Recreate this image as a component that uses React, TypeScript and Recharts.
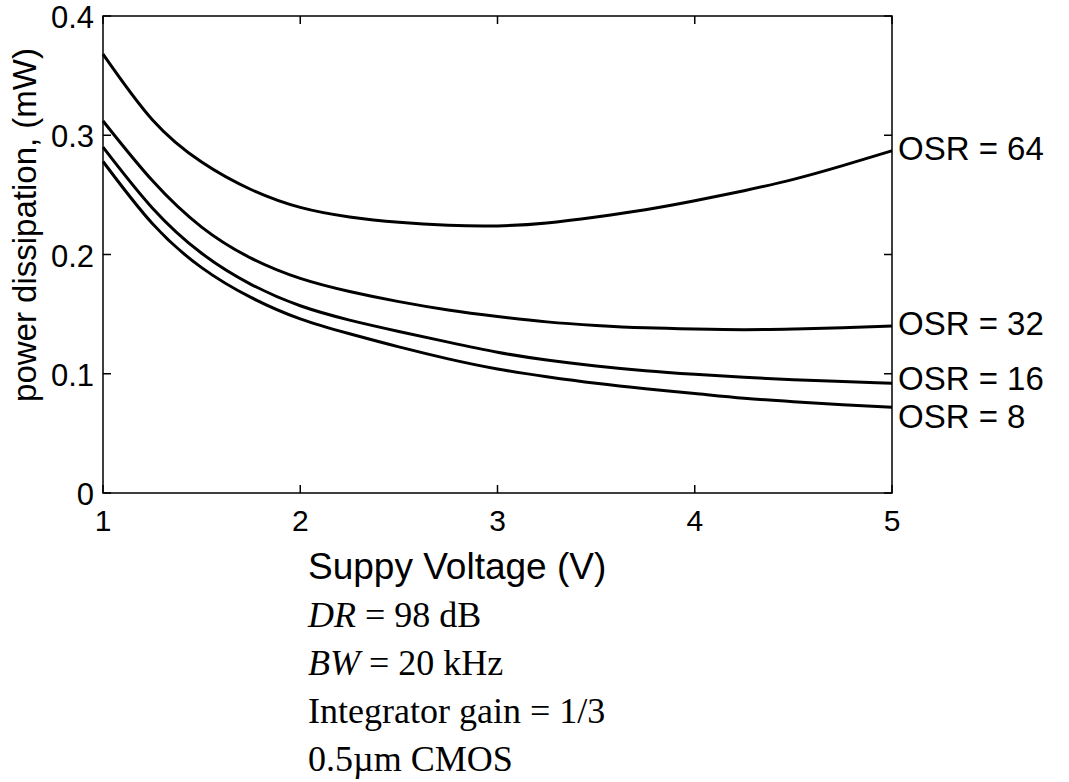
import { LineChart, Line, XAxis, YAxis, ReferenceArea, LabelList } from "recharts";

const voltage = [1, 1.25, 1.5, 1.75, 2, 2.25, 2.5, 2.75, 3, 3.25, 3.5, 3.75, 4, 4.25, 4.5, 4.75, 5];
const osr64 = [0.368, 0.313, 0.2775, 0.2545, 0.2395, 0.2315, 0.227, 0.2245, 0.224, 0.2265, 0.2315, 0.2375, 0.245, 0.2535, 0.263, 0.2745, 0.287];
const osr32 = [0.312, 0.262, 0.223, 0.197, 0.18, 0.169, 0.1605, 0.1535, 0.148, 0.1435, 0.1405, 0.1385, 0.1375, 0.137, 0.1375, 0.1385, 0.14];
const osr16 = [0.29, 0.239, 0.201, 0.175, 0.157, 0.145, 0.1355, 0.1265, 0.118, 0.1115, 0.1065, 0.1025, 0.0995, 0.097, 0.095, 0.0935, 0.092];
const osr8 = [0.278, 0.226, 0.189, 0.164, 0.146, 0.1335, 0.1225, 0.1125, 0.104, 0.0975, 0.092, 0.0875, 0.0835, 0.0795, 0.0765, 0.074, 0.072];

const xTicks = [1, 2, 3, 4, 5];
const yTicks = [0, 0.1, 0.2, 0.3, 0.4];

const series = [
  { key: "osr64", label: "OSR = 64", dy: 9 },
  { key: "osr32", label: "OSR = 32", dy: 9 },
  { key: "osr16", label: "OSR = 16", dy: 7 },
  { key: "osr8", label: "OSR = 8", dy: 21 },
];

const notes = ["Integrator gain = 1/3", "0.5\u00b5m CMOS"];

const rows = voltage.map((v, i) => ({ v, osr64: osr64[i], osr32: osr32[i], osr16: osr16[i], osr8: osr8[i] }));

// plot box in page pixels
const LEFT = 103;
const RIGHT = 892;
const TOP = 16;
const BOTTOM = 493;
const W = 1069;
const H = 782;
const TICK = 8;

const sans = "'Liberation Sans', Arial, Helvetica, sans-serif";
const serif = "'Liberation Serif', 'Times New Roman', serif";

function XTick(props: any) {
  const { x, payload } = props;
  return (
    <g>
      <line x1={x} x2={x} y1={BOTTOM} y2={BOTTOM - TICK} stroke="#000" strokeWidth={1.5} />
      <line x1={x} x2={x} y1={TOP} y2={TOP + TICK} stroke="#000" strokeWidth={1.5} />
      <text x={x} y={BOTTOM + 38} textAnchor="middle" fontSize={30} fontFamily={sans} fill="#000">
        {payload.value}
      </text>
    </g>
  );
}

function YTick(props: any) {
  const { y, payload } = props;
  return (
    <g>
      <line x1={LEFT} x2={LEFT + TICK} y1={y} y2={y} stroke="#000" strokeWidth={1.5} />
      <line x1={RIGHT} x2={RIGHT - TICK} y1={y} y2={y} stroke="#000" strokeWidth={1.5} />
      <text x={LEFT - 9} y={y + 12} textAnchor="end" fontSize={31} fontFamily={sans} fill="#000">
        {payload.value}
      </text>
    </g>
  );
}

function endLabel(text: string, dy: number) {
  return (props: any) => {
    const { x, y, index } = props;
    if (index !== voltage.length - 1) return null;
    return (
      <text x={x + 6} y={y + dy} fontSize={33} fontFamily={sans} fill="#000">
        {text}
      </text>
    );
  };
}

export default function App() {
  return (
    <div style={{ position: "absolute", left: 0, top: 0, width: W, height: H, background: "#fff" }}>
      <LineChart
        width={W}
        height={H}
        data={rows}
        margin={{ top: TOP, right: W - RIGHT, bottom: H - BOTTOM - 40, left: LEFT - 60 }}
      >
        <XAxis
          dataKey="v"
          type="number"
          domain={[1, 5]}
          ticks={xTicks}
          height={40}
          axisLine={false}
          tickLine={false}
          tick={<XTick />}
          interval={0}
        />
        <YAxis
          type="number"
          domain={[0, 0.4]}
          ticks={yTicks}
          width={60}
          axisLine={false}
          tickLine={false}
          tick={<YTick />}
          interval={0}
        />
        <ReferenceArea x1={1} x2={5} y1={0} y2={0.4} fill="none" stroke="#000" strokeWidth={1.5} fillOpacity={0} />
        {series.map((s) => (
          <Line
            key={s.key}
            dataKey={s.key}
            type="natural"
            stroke="#000"
            strokeWidth={3}
            dot={false}
            activeDot={false}
            isAnimationActive={false}
          >
            <LabelList dataKey={s.key} content={endLabel(s.label, s.dy)} />
          </Line>
        ))}
      </LineChart>
      <svg width={W} height={H} style={{ position: "absolute", left: 0, top: 0, pointerEvents: "none" }}>
        <text transform="translate(36,225) rotate(-90)" textAnchor="middle" fontSize={33} fontFamily={sans} fill="#000">
          power dissipation, (mW)
        </text>
        <text x={308} y={579} fontSize={37} fontFamily={sans} fill="#000">
          Suppy Voltage (V)
        </text>
        <text x={308} y={627} fontSize={36} fontFamily={serif} fill="#000">
          <tspan fontStyle="italic">DR</tspan> = 98 dB
        </text>
        <text x={308} y={675} fontSize={36} fontFamily={serif} fill="#000">
          <tspan fontStyle="italic">BW</tspan> = 20 kHz
        </text>
        {notes.map((n, i) => (
          <text key={n} x={308} y={723 + i * 48} fontSize={36} fontFamily={serif} fill="#000">
            {n}
          </text>
        ))}
      </svg>
    </div>
  );
}
